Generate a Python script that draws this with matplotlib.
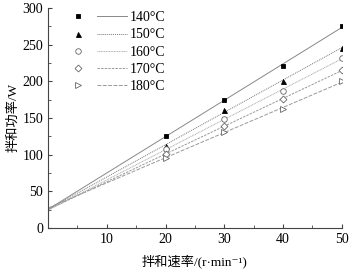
import numpy as np
import matplotlib
matplotlib.use("Agg")
import matplotlib.pyplot as plt
from matplotlib.lines import Line2D
from matplotlib.legend_handler import HandlerTuple
from matplotlib.ticker import MultipleLocator

plt.rcParams['font.family'] = ['Liberation Serif', 'Noto Sans CJK SC', 'DejaVu Sans']

speed = np.array([20, 30, 40, 50])
labels = ["140°C", "150°C", "160°C", "170°C", "180°C"]
power = [
    [125, 175, 221, 275],
    [112, 161, 200, 246],
    [107, 149, 187, 232],
    [101, 139, 176, 215],
    [96, 131, 162, 200],
]

markers = ["s", "^", "o", "D", ">"]
filled = [True, True, False, False, False]
msizes = [3.5, 3.6, 4, 3.5, 4]
lstyles = ["-", (0, (1, 1)), (0, (1, 0.7)), (0, (2.5, 1.2)), (0, (4, 1.5))]
lcolors = ["#888888", "#777777", "#aaaaaa", "#999999", "#999999"]

fig = plt.figure(figsize=(3.51, 2.73), dpi=100)
ax = fig.add_axes([0.137, 0.165, 0.837, 0.806])

xs = np.linspace(0, 50, 50)
handles = []
for y, m, f, ms, ls, lc, lab in zip(power, markers, filled, msizes, lstyles, lcolors, labels):
    k, b = np.polyfit(speed, y, 1)
    ax.plot(xs, k * xs + b, color=lc, lw=0.7, ls=ls)
    fc = "black" if f else "white"
    ec = "black" if f else "#666666"
    ax.plot(speed, y, ls="none", marker=m, ms=ms, mfc=fc, mec=ec, mew=0.6)
    mh = Line2D([], [], ls="none", marker=m, ms=ms, mfc=fc, mec=ec, mew=0.6)
    lh = Line2D([], [], color=lc, lw=0.7, ls=ls)
    handles.append((mh, lh))

ax.legend(handles, labels, handler_map={tuple: HandlerTuple(ndivide=None, pad=0.29)},
          loc="upper left", bbox_to_anchor=(0.051, 0.985), frameon=False, fontsize=10,
          borderaxespad=0, borderpad=0,
          handlelength=4.6, handletextpad=0.2, labelspacing=0.3)

ax.set_xlim(0, 50)
ax.set_ylim(0, 300)
ax.xaxis.set_major_locator(MultipleLocator(10))
ax.xaxis.set_minor_locator(MultipleLocator(5))
ax.yaxis.set_major_locator(MultipleLocator(50))
ax.yaxis.set_minor_locator(MultipleLocator(25))
ax.set_xticks([10, 20, 30, 40, 50])
ax.tick_params(which="both", direction="in", labelsize=10, color="#444444")
ax.tick_params(which="major", length=3)
ax.tick_params(which="minor", length=2)
for s in ["top", "right"]:
    ax.spines[s].set_visible(False)
for s in ["left", "bottom"]:
    ax.spines[s].set_color("#444444")

ax.set_xlabel("拌和速率/(r·min⁻¹)", fontsize=9.5, labelpad=6)
ax.set_ylabel("拌和功率/W", fontsize=9.5, labelpad=2)

fig.savefig("out.png", dpi=100)
